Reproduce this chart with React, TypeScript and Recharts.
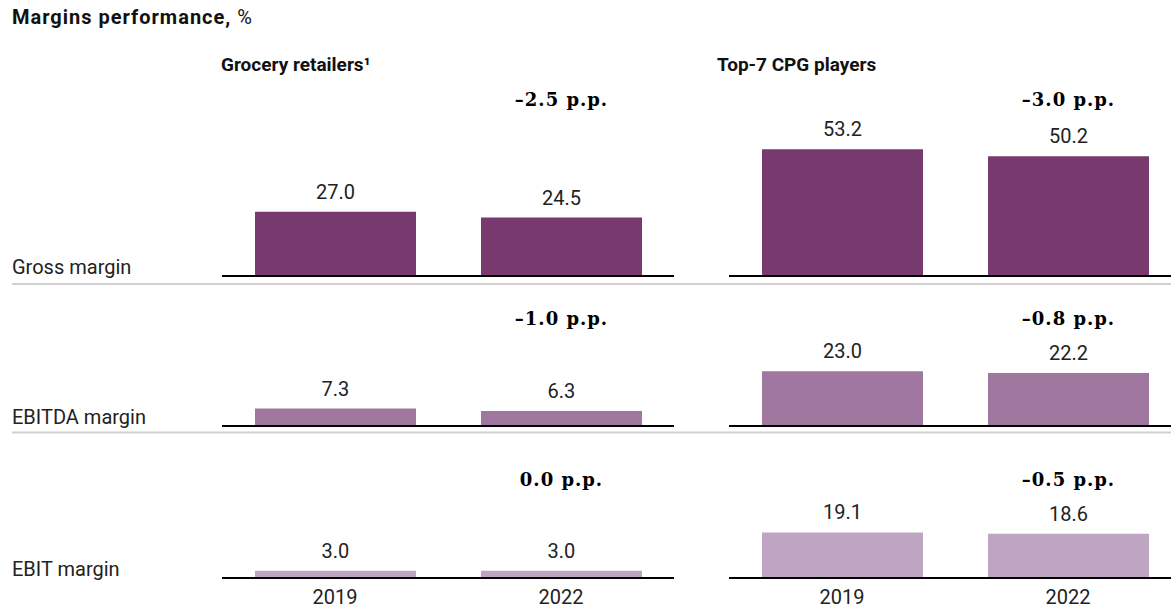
import React from "react";
import { BarChart, Bar, XAxis, YAxis, LabelList } from "recharts";

// categories and values
const years = ["2019", "2022"];
const metrics = ["Gross margin", "EBITDA margin", "EBIT margin"];
const groups = ["Grocery retailers\u00b9", "Top-7 CPG players"];
const groceryValues = [
  [27.0, 24.5],
  [7.3, 6.3],
  [3.0, 3.0],
];
const cpgValues = [
  [53.2, 50.2],
  [23.0, 22.2],
  [19.1, 18.6],
];
const groceryDelta = ["\u20132.5 p.p.", "\u20131.0 p.p.", "0.0 p.p."];
const cpgDelta = ["\u20133.0 p.p.", "\u20130.8 p.p.", "\u20130.5 p.p."];

const SANS = "Roboto, 'Liberation Sans', Arial, sans-serif";
const SERIF = "'DejaVu Serif', 'Liberation Serif', serif";
const barColors = ["#783A6E", "#A0779E", "#BEA5C1"];

const W = 1171;
const H = 609;
const panelX = [222, 729];
const headerX = [221, 717];
const panelW = 452;
const rowBase = [276, 426, 578];
const deltaRise = [170, 101, 92];
const plotH = 143;
const above = 200;

const deltaLabel = (rise: number) => (props: any) => {
  const { viewBox, value } = props;
  if (!value || !viewBox) return null;
  const { x, y, width, height } = viewBox;
  return (
    <text
      x={x + width / 2}
      y={y + height - rise}
      textAnchor="middle"
      fontFamily={SERIF}
      fontWeight={700}
      fontSize={18}
      letterSpacing={1}
      fill="#000"
    >
      {value}
    </text>
  );
};

function Panel({ values, delta, row, col }: { values: number[]; delta: string; row: number; col: number }) {
  const data = years.map((year, i) => ({ year, value: values[i], delta: i === 1 ? delta : "" }));
  const last = row === metrics.length - 1;
  const axisH = last ? 31 : 1;
  return (
    <div style={{ position: "absolute", left: panelX[col], top: rowBase[row] - above }}>
      <BarChart
        width={panelW}
        height={above + axisH}
        data={data}
        margin={{ top: above - plotH, right: 0, bottom: 0, left: 0 }}
      >
        <XAxis
          dataKey="year"
          height={axisH}
          axisLine={{ stroke: "#000", strokeWidth: 2 }}
          tickLine={false}
          tickSize={0}
          tickMargin={12}
          tick={last ? { fill: "#222", fontSize: 20, fontFamily: SANS } : false}
        />
        <YAxis hide domain={[0, 60]} />
        <Bar dataKey="value" fill={barColors[row]} barSize={161} isAnimationActive={false}>
          <LabelList
            dataKey="value"
            position="top"
            offset={13}
            formatter={(v: any) => Number(v).toFixed(1)}
            fill="#222"
            fontSize={20}
            fontFamily={SANS}
          />
          <LabelList dataKey="delta" content={deltaLabel(deltaRise[row])} />
        </Bar>
      </BarChart>
    </div>
  );
}

export default function App() {
  return (
    <div style={{ position: "absolute", left: 0, top: 0, width: W, height: H, overflow: "hidden", background: "#fff" }}>
      <svg width={W} height={H} style={{ position: "absolute", left: 0, top: 0 }}>
        <text x={12} y={24} fontFamily={SANS} fontSize={20} letterSpacing={1} fill="#111">
          <tspan fontWeight={700}>Margins performance,</tspan>
          <tspan> %</tspan>
        </text>
        {groups.map((g, i) => (
          <text key={g} x={headerX[i]} y={71} fontFamily={SANS} fontSize={19} fontWeight={700} fill="#111">
            {g}
          </text>
        ))}
        {metrics.map((m, i) => (
          <text key={m} x={12} y={rowBase[i] - 2} fontFamily={SANS} fontSize={20} fill="#222">
            {m}
          </text>
        ))}
        {[284, 432.5].map((y) => (
          <line key={y} x1={12} x2={W} y1={y} y2={y} stroke="#d0d0d0" strokeWidth={2} />
        ))}
      </svg>
      {metrics.map((m, row) =>
        [groceryValues, cpgValues].map((vals, col) => (
          <Panel
            key={m + col}
            values={vals[row]}
            delta={(col === 0 ? groceryDelta : cpgDelta)[row]}
            row={row}
            col={col}
          />
        ))
      )}
    </div>
  );
}
